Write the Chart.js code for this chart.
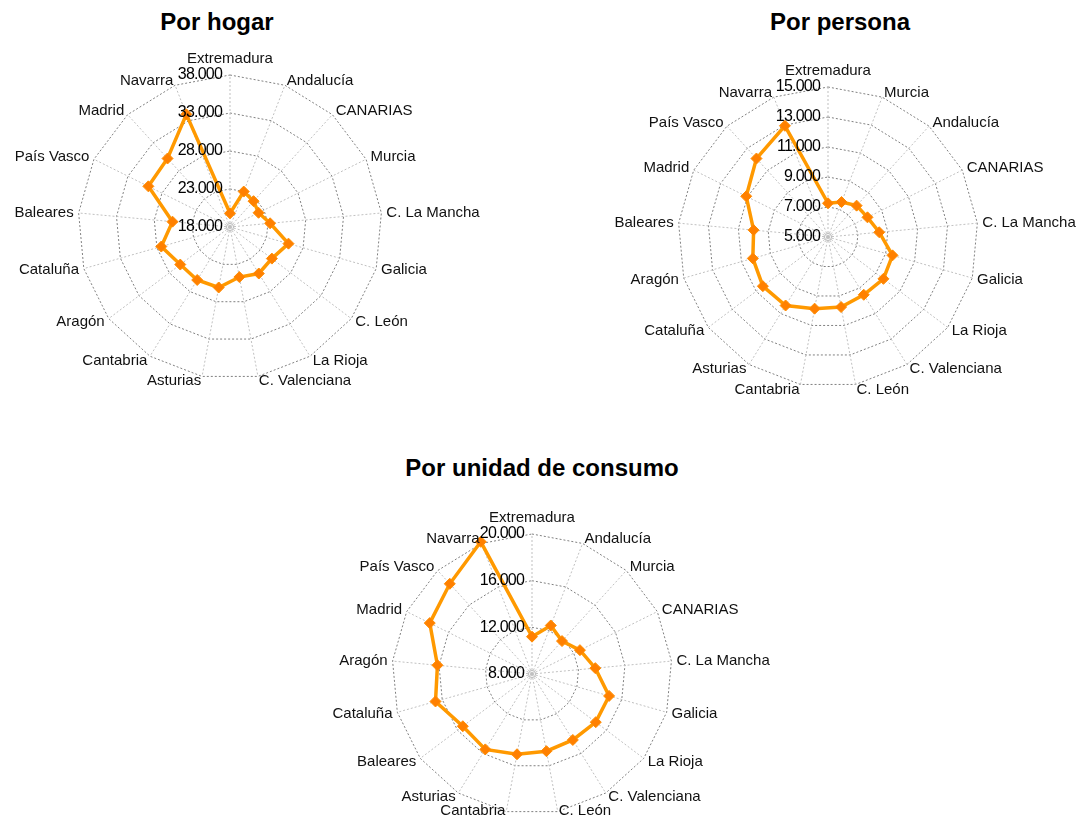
<!DOCTYPE html>
<html lang="es">
<head>
<meta charset="utf-8">
<title>Renta media por comunidad</title>
<script src="https://cdn.jsdelivr.net/npm/chart.js@4.4.0/dist/chart.umd.min.js"></script>
<style>
  html, body { margin: 0; padding: 0; background: #fff; }
  body { width: 1076px; height: 820px; position: relative; overflow: hidden; }
  canvas { position: absolute; }
  .titulo {
    position: absolute; width: 400px; text-align: center;
    font: bold 24px "Liberation Sans", Arial, sans-serif; line-height: 24px; color: #000;
  }
</style>
</head>
<body>
<div class="titulo" style="left:17px; top:10px;">Por hogar</div>
<div class="titulo" style="left:640px; top:10px;">Por persona</div>
<div class="titulo" style="left:342px; top:456px;">Por unidad de consumo</div>

<canvas id="hogar" width="520" height="360" style="left:0px; top:40px;"></canvas>
<canvas id="persona" width="536" height="370" style="left:540px; top:40px;"></canvas>
<canvas id="consumo" width="560" height="340" style="left:270px; top:480px;"></canvas>

<script>
// datos (euros)
var catHogar = ['Extremadura', 'Andalucía', 'CANARIAS', 'Murcia', 'C. La Mancha', 'Galicia', 'C. León', 'La Rioja',
    'C. Valenciana', 'Asturias', 'Cantabria', 'Aragón', 'Cataluña', 'Baleares', 'País Vasco', 'Madrid', 'Navarra'];
var valHogar = [19800, 23000, 22600, 22200, 23300, 26000, 24900, 25200,
    24700, 26100, 26200, 26200, 27400, 25600, 30000, 30200, 33900];
var ticksHogar = ['18.000', '23.000', '28.000', '33.000', '38.000'];

var catPersona = ['Extremadura', 'Murcia', 'Andalucía', 'CANARIAS', 'C. La Mancha', 'Galicia', 'La Rioja', 'C. Valenciana',
    'C. León', 'Cantabria', 'Asturias', 'Cataluña', 'Aragón', 'Baleares', 'Madrid', 'País Vasco', 'Navarra'];
var valPersona = [7250, 7500, 7830, 7940, 8430, 9470, 9630, 9530,
    9750, 9860, 10370, 10440, 10210, 9980, 11090, 12080, 12950];
var ticksPersona = ['5.000', '7.000', '9.000', '11.000', '13.000', '15.000'];

var catConsumo = ['Extremadura', 'Andalucía', 'Murcia', 'CANARIAS', 'C. La Mancha', 'Galicia', 'La Rioja', 'C. Valenciana',
    'C. León', 'Cantabria', 'Asturias', 'Baleares', 'Cataluña', 'Aragón', 'Madrid', 'País Vasco', 'Navarra'];
var valConsumo = [11200, 12460, 11820, 12590, 13450, 14870, 14850, 14650,
    14730, 15000, 15600, 15430, 16600, 16140, 17790, 18460, 20150];
var ticksConsumo = ['8.000', '12.000', '16.000', '20.000'];

// etiquetas de comunidades y de valores, colocadas con la escala r
var etiquetas = {
    id: 'etiquetas',
    afterDraw: function (chart) {
        var scale = chart.scales.r;
        var ctx = chart.ctx;
        var n = chart.data.labels.length;
        var textos = chart.options.plugins.etiquetas.ticks;
        ctx.save();

        // circulito del centro
        ctx.strokeStyle = '#b5b5b5';
        ctx.lineWidth = 1;
        ctx.beginPath();
        ctx.arc(scale.xCenter, scale.yCenter, 3.5, 0, Math.PI * 2);
        ctx.stroke();

        ctx.font = '15px "Liberation Sans", Arial, sans-serif';
        ctx.fillStyle = '#111';
        for (var i = 0; i < n; i++) {
            var p;
            if (i == 0) {
                p = scale.getPointPosition(0, scale.drawingArea + 12);
                ctx.textAlign = 'center';
                ctx.textBaseline = 'alphabetic';
                ctx.fillText(chart.data.labels[i], p.x, p.y);
            } else {
                p = scale.getPointPosition(i, scale.drawingArea + 5);
                var y = Math.min(p.y, chart.height - 9);
                ctx.textAlign = (i < n / 2) ? 'left' : 'right';
                ctx.textBaseline = 'middle';
                ctx.fillText(chart.data.labels[i], p.x, y);
            }
        }

        ctx.font = '16px "Liberation Sans", Arial, sans-serif';
        ctx.letterSpacing = '-0.8px';
        ctx.textAlign = 'right';
        ctx.textBaseline = 'middle';
        ctx.fillStyle = '#000';
        scale.ticks.forEach(function (t, k) {
            var d = scale.getDistanceFromCenterForValue(t.value);
            ctx.fillText(textos[k], scale.xCenter - 8, scale.yCenter - d);
        });
        ctx.letterSpacing = '0px';
        ctx.restore();
    }
};

function radar(id, cats, vals, ticks, min, max, step, pad) {
    var ctx = document.getElementById(id).getContext('2d');
    return new Chart(ctx, {
        type: 'radar',
        data: {
            labels: cats,
            datasets: [{
                data: vals,
                borderColor: '#ff9900',
                borderWidth: 3.5,
                fill: false,
                tension: 0,
                clip: false,
                pointStyle: 'rectRot',
                pointRadius: 5.5,
                pointBackgroundColor: '#ff8000',
                pointBorderColor: '#ff8c00',
                pointBorderWidth: 1
            }]
        },
        options: {
            responsive: false,
            animation: false,
            layout: { padding: pad },
            plugins: {
                legend: { display: false },
                tooltip: { enabled: false },
                etiquetas: { ticks: ticks }
            },
            scales: {
                r: {
                    min: min,
                    max: max,
                    ticks: { display: false, stepSize: step },
                    pointLabels: { display: false },
                    grid: { color: '#808080', lineWidth: 1 },
                    border: { dash: [2, 2] },
                    angleLines: { color: '#c0c0c0', lineWidth: 1, borderDash: [2, 2] }
                }
            }
        },
        plugins: [etiquetas]
    });
}

radar('hogar', catHogar, valHogar, ticksHogar, 18000, 38000, 5000,
    { left: 78, right: 138, top: 35, bottom: 21 });
radar('persona', catPersona, valPersona, ticksPersona, 5000, 15000, 2000,
    { left: 138, right: 98, top: 47, bottom: 23 });
radar('consumo', catConsumo, valConsumo, ticksConsumo, 8000, 20000, 4000,
    { left: 122, right: 158, top: 54, bottom: 6 });
</script>
</body>
</html>
